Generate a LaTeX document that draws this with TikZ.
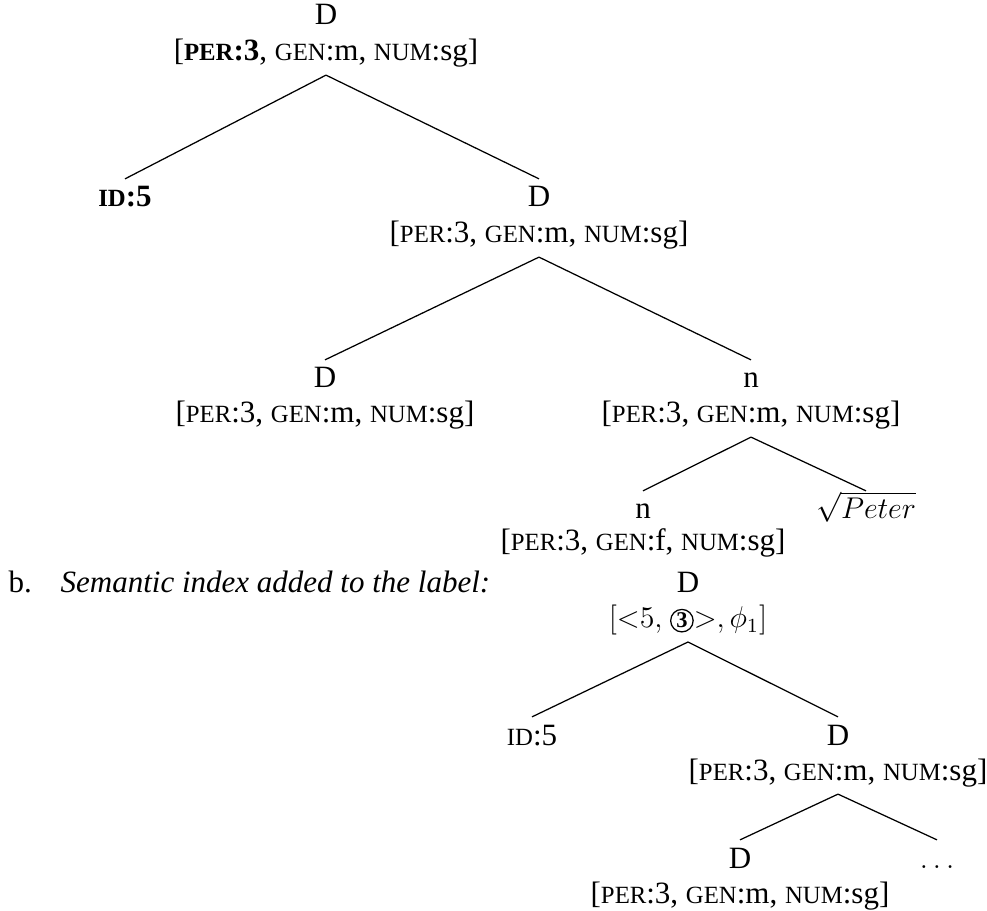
\documentclass[tikz,border=0pt]{standalone}
\usepackage[no-math]{fontspec}
\setmainfont{Liberation Serif}
\usetikzlibrary{positioning}

% fake small caps for the feature names
\newcommand{\featsc}[1]{{\fontsize{9.9pt}{10pt}\selectfont #1}}
\newcommand{\phif}[3]{[\featsc{PER}:#1, \featsc{GEN}:#2, \featsc{NUM}:#3]}
\newcommand{\circnum}[1]{\tikz[baseline=(cn.base)]\node[draw, circle, inner sep=0pt, minimum size=9pt, line width=0.5pt, font=\fontsize{9pt}{9pt}\selectfont\bfseries] (cn) {#1};}

\begin{document}
\begin{tikzpicture}[x=0.4pt, y=-0.4pt, line width=0.5pt,
  every node/.style={font=\fontsize{12.4pt}{14pt}\selectfont},
  cat/.style={anchor=base, text height=8.2pt, text depth=2.6pt, inner sep=2.8pt},
  txt/.style={anchor=base west, inner sep=0pt}]
  \useasboundingbox (0,0) rectangle (987,911);

  % Tree a
  \node[cat] (ra) at (326,25) {D};
  \node[cat] (raf) at (326,61) {[\textbf{\featsc{PER}:3}, \featsc{GEN}:m, \featsc{NUM}:sg]};
  \node[cat] (ida) at (125,207) {\textbf{\featsc{ID}:5}};
  \node[cat] (da) at (539,207) {D};
  \node[cat] (daf) at (539,243) {\phif{3}{m}{sg}};
  \node[cat] (dla) at (325,388) {D};
  \node[cat] (dlaf) at (325,423) {\phif{3}{m}{sg}};
  \node[cat] (na) at (751,388) {n};
  \node[cat] (naf) at (751,423) {\phif{3}{m}{sg}};
  \node[cat] (nb) at (643,519) {n};
  \node[cat] (nbf) at (643,551) {\phif{3}{f}{sg}};
  \node[cat] (rt) at (866,519) {$\sqrt{Peter}$};

  % Tree b
  \node[txt] (lb) at (8,593) {b.};
  \node[txt] (lbt) at (60,593) {\itshape Semantic index added to the label:};
  \node[cat] (rb) at (688,593) {D};
  \node[cat, font=\fontsize{11.8pt}{14pt}\selectfont] (rbf) at (688,628) {$[{<}5,$ \circnum{3}${>}, \phi_1]$};
  \node[cat] (idb) at (532,745) {\featsc{ID}:5};
  \node[cat] (db) at (838,745) {D};
  \node[cat] (dbf) at (838,780) {\phif{3}{m}{sg}};
  \node[cat] (dc) at (740,868) {D};
  \node[cat] (dcf) at (740,903) {\phif{3}{m}{sg}};
  \node[cat] (dots) at (937,868) {$\dots$};

  % Branches
  \foreach \a/\b in {raf/ida, raf/da, daf/dla, daf/na, naf/nb, naf/rt,
                     rbf/idb, rbf/db, dbf/dc, dbf/dots} {
    \draw (\a.south) -- (\b.north);
  }
\end{tikzpicture}
\end{document}
